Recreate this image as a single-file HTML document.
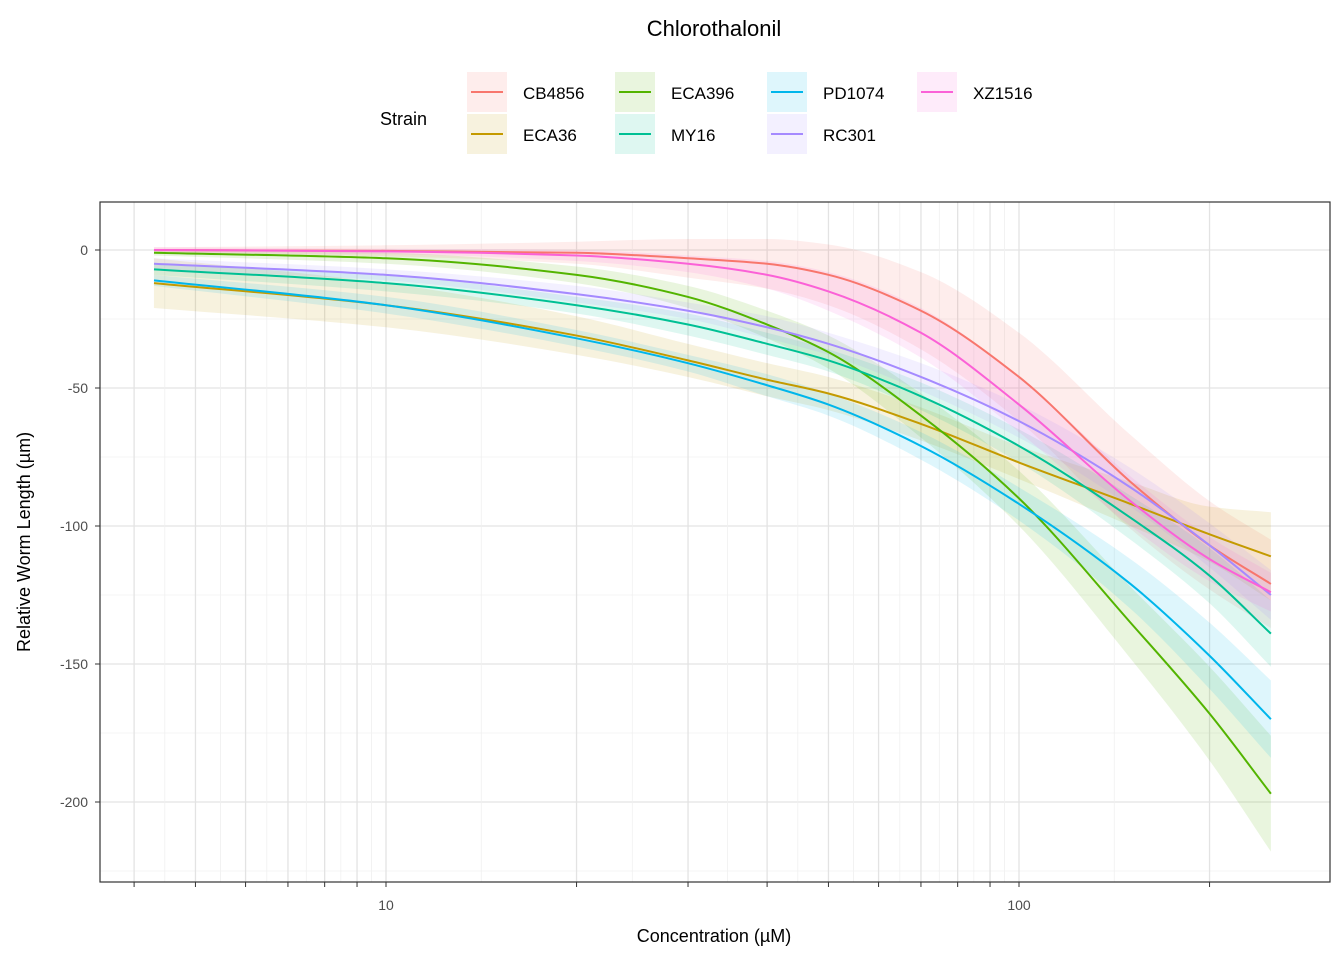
<!DOCTYPE html>
<html><head><meta charset="utf-8"><style>
body{margin:0;background:#fff;font-family:"Liberation Sans",Arial,sans-serif}
</style></head><body>
<svg id="chart" width="1344" height="960" xmlns="http://www.w3.org/2000/svg">
<text x="714" y="36" font-size="22" text-anchor="middle">Chlorothalonil</text>
<g id="legend"><text x="380" y="125" font-size="18">Strain</text></g>
<g id="grid"></g>
<g id="bands"></g>
<g id="lines"></g>
<rect x="100" y="202" width="1230" height="680" fill="none" stroke="#333" stroke-width="1.2"/>
<g id="axes"></g>
<text x="714" y="942" font-size="18" text-anchor="middle">Concentration (µM)</text>
<text transform="translate(30,542) rotate(-90)" font-size="18" text-anchor="middle">Relative Worm Length (µm)</text>
</svg>
<script>
const conc=[4.3,10,20,30,40,50,70,100,150,200,250];
const strains=["CB4856","ECA36","ECA396","MY16","PD1074","RC301","XZ1516"];
const colors=["#F8766D","#C49A00","#53B400","#00C094","#00B6EB","#A58AFF","#FB61D7"];
const vCB4856=[0,-0.3,-1,-3,-5,-9,-22,-46,-84,-107,-121];
const vECA36=[-12,-20,-31,-40,-47,-52,-63,-77,-92,-103,-111];
const vECA396=[-1,-3,-9,-17,-27,-37,-60,-90,-135,-168,-197];
const vMY16=[-7,-12,-20,-27,-34,-40,-53,-71,-97,-118,-139];
const vPD1074=[-11,-20,-32,-41,-49,-56,-71,-92,-121,-147,-170];
const vRC301=[-5,-9,-16,-22,-28,-34,-46,-62,-86,-107,-125];
const vXZ1516=[0,-0.5,-2,-5,-9,-15,-30,-56,-91,-112,-124];
const hCB4856=[1,2,4,7,9,11,14,16,17,16,16];
const hECA36=[9,8,7,6,6,6,6,6,8,10,16];
const hECA396=[1,2,3,4,5,6,8,10,13,17,21];
const hMY16=[2,3,3,4,4,4,5,6,8,10,12];
const hPD1074=[2,3,3,3,4,4,5,6,9,12,14];
const hRC301=[2,2,3,3,4,4,5,6,7,8,9];
const hXZ1516=[1,1,2,3,5,7,9,10,9,8,7];
const yTicks=[0,-50,-100,-150,-200];
const vals=[vCB4856,vECA36,vECA396,vMY16,vPD1074,vRC301,vXZ1516];
const hws=[hCB4856,hECA36,hECA396,hMY16,hPD1074,hRC301,hXZ1516];
const NS="http://www.w3.org/2000/svg";
const X=c=>386+633*Math.log10(c/10);
const Y=v=>250-2.76*v;
function mk(t,a,p){const e=document.createElementNS(NS,t);for(const k in a)e.setAttribute(k,a[k]);p.appendChild(e);return e;}
const grid=document.getElementById('grid'),axes=document.getElementById('axes');
for(let v=-25;v>=-225;v-=50){const l=mk('line',{x1:100,x2:1330,y1:Y(v),y2:Y(v),stroke:'#f0f0f0','stroke-width':0.8},grid);

}
yTicks.forEach(v=>{const l=mk('line',{x1:100,x2:1330,y1:Y(v),y2:Y(v),stroke:'#e3e3e3','stroke-width':1.3},grid);


const t=mk('text',{x:88,y:Y(v)+5,'font-size':14,'text-anchor':'end',fill:'#4d4d4d'},axes);t.textContent=v;


const tk=mk('line',{x1:95,x2:100,y1:Y(v),y2:Y(v),stroke:'#333'},axes);

});
const xt=[4,5,6,7,8,9,10,20,30,40,50,60,70,80,90,100,200];
for(let i=0;i<xt.length;i++){
const l=mk('line',{x1:X(xt[i]),x2:X(xt[i]),y1:202,y2:882,stroke:'#e3e3e3','stroke-width':1.3},grid);


if(i<xt.length-1){const m=Math.sqrt(xt[i]*xt[i+1]);const ml=mk('line',{x1:X(m),x2:X(m),y1:202,y2:882,stroke:'#f0f0f0','stroke-width':0.8},grid);

}
const tk=mk('line',{x1:X(xt[i]),x2:X(xt[i]),y1:882,y2:887,stroke:'#333'},axes);

}
[10,100].forEach(c=>{const t=mk('text',{x:X(c),y:910,'font-size':14,'text-anchor':'middle',fill:'#4d4d4d'},axes);t.textContent=c;

});
// monotone cubic (x strictly increasing)
function monoPts(pts,rev){
const n=pts.length,xs=pts.map(p=>p[0]),ys=pts.map(p=>p[1]);
const d=[],m=[];for(let i=0;i<n-1;i++)d.push((ys[i+1]-ys[i])/(xs[i+1]-xs[i]));
m[0]=d[0];m[n-1]=d[n-2];
for(let i=1;i<n-1;i++){if(d[i-1]*d[i]<=0)m[i]=0;else{const h0=xs[i]-xs[i-1],h1=xs[i+1]-xs[i];m[i]=3*(h0+h1)/((2*h1+h0)/d[i-1]+(h1+2*h0)/d[i]);}}
const segs=[];
for(let i=0;i<n-1;i++){const h=(xs[i+1]-xs[i])/3;segs.push([[xs[i],ys[i]],[xs[i]+h,ys[i]+m[i]*h],[xs[i+1]-h,ys[i+1]-m[i+1]*h],[xs[i+1],ys[i+1]]]);}
return segs;}
function pathF(pts){const s=monoPts(pts);let d=`M${s[0][0][0]},${s[0][0][1]}`;s.forEach(g=>{d+=` C${g[1][0]},${g[1][1]} ${g[2][0]},${g[2][1]} ${g[3][0]},${g[3][1]}`;});return d;}
function pathR(pts){const s=monoPts(pts).reverse();let d=` L${s[0][3][0]},${s[0][3][1]}`;s.forEach(g=>{d+=` C${g[2][0]},${g[2][1]} ${g[1][0]},${g[1][1]} ${g[0][0]},${g[0][1]}`;});return d;}
const bands=document.getElementById('bands'),lines=document.getElementById('lines'),leg=document.getElementById('legend');
strains.forEach((s,k)=>{
const up=conc.map((c,i)=>[X(c),Y(vals[k][i]+hws[k][i])]);
const lo=conc.map((c,i)=>[X(c),Y(vals[k][i]-hws[k][i])]);
const b=mk('path',{d:pathF(up)+pathR(lo)+' Z',fill:colors[k],'fill-opacity':0.13,stroke:'none'},bands);


const ln=mk('path',{d:pathF(conc.map((c,i)=>[X(c),Y(vals[k][i])])),fill:'none',stroke:colors[k],'stroke-width':2},lines);


const col=Math.floor(k/2),row=k%2;const lx=[467,615,767,917][col],ly=row?114:72;
const g=mk('g',{},leg);


mk('rect',{x:lx,y:ly,width:40,height:40,fill:colors[k],'fill-opacity':0.13},g);
mk('line',{x1:lx+4,x2:lx+36,y1:ly+20,y2:ly+20,stroke:colors[k],'stroke-width':2},g);
const t=mk('text',{x:lx+56,y:ly+27,'font-size':17},g);t.textContent=s;});
</script>
</body></html>
